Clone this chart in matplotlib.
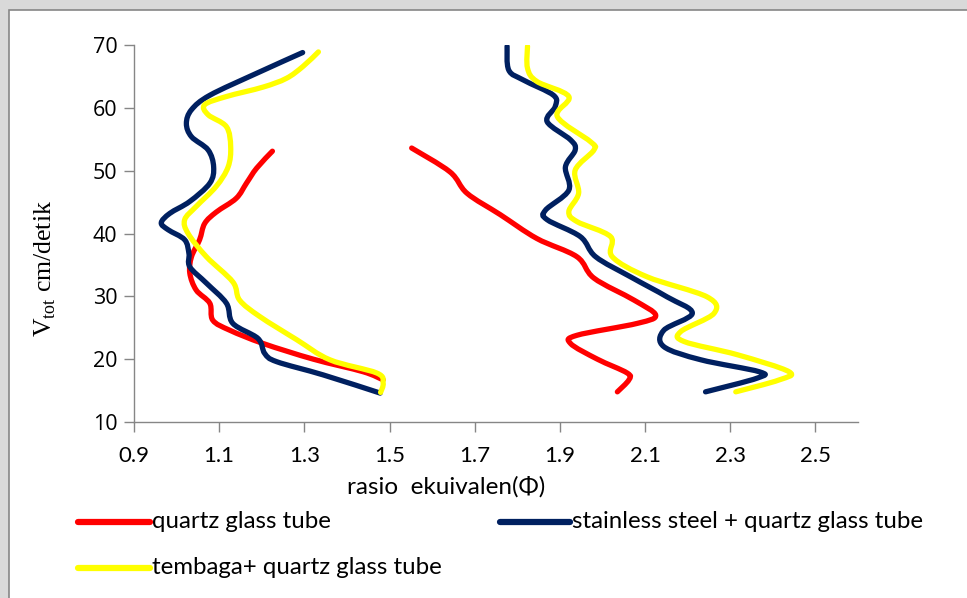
import matplotlib
matplotlib.use("Agg")
import matplotlib.pyplot as plt
from matplotlib.lines import Line2D
from matplotlib.patches import Rectangle, PathPatch
from matplotlib.path import Path

plt.rcParams["mathtext.fontset"] = "custom"
plt.rcParams["mathtext.rm"] = "Liberation Serif"

# data (x = rasio ekuivalen, y = V_tot cm/detik)
# quartz glass tube
quartz_lean_x = [1.225, 1.188, 1.164, 1.140, 1.093, 1.066, 1.054, 1.035, 1.031, 1.046, 1.078, 1.085, 1.125, 1.203, 1.321, 1.438, 1.485]
quartz_lean_y = [53.1, 50.4, 48.0, 45.6, 43.4, 41.6, 39.0, 36.3, 33.7, 31.0, 28.9, 26.2, 24.6, 22.5, 20.0, 18.0, 16.7]
quartz_rich_x = [1.552, 1.642, 1.682, 1.760, 1.846, 1.940, 1.980, 2.074, 2.125, 2.082, 1.940, 1.925, 1.988, 2.058, 2.062, 2.035]
quartz_rich_y = [53.6, 49.8, 46.4, 43.0, 39.2, 36.3, 32.9, 29.4, 27.0, 25.7, 23.8, 22.5, 20.0, 17.8, 16.7, 14.8]

# stainless steel + quartz glass tube
steel_lean_x = [1.296, 1.188, 1.078, 1.035, 1.023, 1.035, 1.074, 1.087, 1.078, 1.031, 0.984, 0.964, 0.980, 1.019, 1.029, 1.031, 1.070, 1.117, 1.132, 1.191, 1.207, 1.235, 1.344, 1.478]
steel_lean_y = [68.8, 65.5, 62.0, 59.7, 57.5, 55.4, 53.3, 50.6, 48.0, 45.1, 43.2, 41.7, 40.6, 39.0, 36.8, 34.7, 32.1, 28.9, 25.7, 23.3, 20.9, 19.6, 17.5, 14.6]
steel_rich_x = [1.776, 1.780, 1.815, 1.885, 1.889, 1.870, 1.925, 1.936, 1.913, 1.921, 1.866, 1.870, 1.948, 1.984, 2.066, 2.152, 2.211, 2.144, 2.144, 2.231, 2.368, 2.364, 2.242]
steel_rich_y = [69.8, 66.0, 64.4, 62.0, 60.2, 57.8, 54.9, 53.3, 50.6, 46.9, 43.7, 42.2, 39.5, 36.3, 33.1, 29.9, 27.3, 24.6, 22.0, 19.9, 18.0, 17.0, 14.8]

# tembaga + quartz glass tube
copper_lean_x = [1.333, 1.297, 1.258, 1.203, 1.117, 1.066, 1.074, 1.117, 1.127, 1.121, 1.093, 1.046, 1.019, 1.027, 1.070, 1.132, 1.148, 1.195, 1.282, 1.360, 1.470, 1.485, 1.479]
copper_lean_y = [68.9, 66.6, 64.7, 63.3, 61.8, 60.5, 58.9, 57.0, 53.8, 50.6, 47.5, 44.3, 42.2, 40.0, 36.3, 32.3, 29.4, 26.8, 23.1, 19.9, 17.8, 16.2, 14.7]
copper_rich_x = [1.824, 1.824, 1.846, 1.921, 1.894, 1.972, 1.980, 1.936, 1.944, 1.921, 1.940, 2.019, 2.023, 2.105, 2.246, 2.262, 2.184, 2.192, 2.317, 2.438, 2.415, 2.313]
copper_rich_y = [69.8, 66.3, 64.2, 61.8, 58.6, 54.6, 53.3, 50.1, 46.4, 43.5, 41.9, 39.5, 36.3, 33.1, 29.9, 27.3, 24.4, 22.8, 20.7, 18.0, 16.7, 14.8]

x_ticks = [0.9, 1.1, 1.3, 1.5, 1.7, 1.9, 2.1, 2.3, 2.5]
y_ticks = [10, 20, 30, 40, 50, 60, 70]
labels = ["quartz glass tube", "stainless steel + quartz glass tube", "tembaga+ quartz glass tube"]

RED = "#ff0000"
NAVY = "#002060"
YELLOW = "#ffff00"
GRAY = "#868686"
SANS = ["Lato", "DejaVu Sans"]


def smooth_path(xs, ys):
    # excel style smoothed line: bezier segments through every point
    pts = list(zip(xs, ys))
    verts = [pts[0]]
    codes = [Path.MOVETO]
    n = len(pts)
    for i in range(n - 1):
        p0 = pts[max(i - 1, 0)]
        p1 = pts[i]
        p2 = pts[i + 1]
        p3 = pts[min(i + 2, n - 1)]
        c1 = (p1[0] + (p2[0] - p0[0]) / 6, p1[1] + (p2[1] - p0[1]) / 6)
        c2 = (p2[0] - (p3[0] - p1[0]) / 6, p2[1] - (p3[1] - p1[1]) / 6)
        verts += [c1, c2, p2]
        codes += [Path.CURVE4] * 3
    return Path(verts, codes)


W, H = 967, 598
fig = plt.figure(figsize=(W / 100, H / 100), dpi=100)
fig.patch.set_facecolor("#d9d9d9")

# white chart area with gray frame (runs past the right and bottom edges)
fig.patches.append(Rectangle((9 / W, -0.1), 1.2, 1 - 10 / H + 0.1, transform=fig.transFigure,
                             facecolor="white", edgecolor=GRAY, linewidth=1.2, zorder=-5))

ax = fig.add_axes([134 / W, 1 - 422 / H, (858 - 134) / W, (422 - 45) / H])
ax.set_facecolor("none")
ax.set_zorder(2)

lw = 3.8
for xs, ys, c in [(quartz_lean_x, quartz_lean_y, RED), (quartz_rich_x, quartz_rich_y, RED),
                  (steel_lean_x, steel_lean_y, NAVY), (steel_rich_x, steel_rich_y, NAVY),
                  (copper_lean_x, copper_lean_y, YELLOW), (copper_rich_x, copper_rich_y, YELLOW)]:
    ax.add_patch(PathPatch(smooth_path(xs, ys), fill=False, edgecolor=c, linewidth=lw,
                           capstyle="round", joinstyle="round"))

ax.set_xlim(0.9, 2.6)
ax.set_ylim(10, 70)
ax.set_xticks(x_ticks)
ax.set_xticklabels([f"{v:.1f}" for v in x_ticks], family=SANS, fontsize=16)
ax.set_yticks(y_ticks)
ax.set_yticklabels([str(v) for v in y_ticks], family=["Open Sans", "DejaVu Sans"], fontsize=15.5)
ax.tick_params(axis="both", direction="out", length=7, width=1, color=GRAY, labelcolor="black")
ax.tick_params(axis="x", pad=10)
ax.tick_params(axis="y", pad=5)
for s in ["top", "right"]:
    ax.spines[s].set_visible(False)
for s in ["left", "bottom"]:
    ax.spines[s].set_color(GRAY)
    ax.spines[s].set_linewidth(1)

fig.text(446 / W, 1 - 487 / H, "rasio  ekuivalen(\u03a6)", family=SANS, fontsize=17.5,
         ha="center", va="center")
fig.text(45 / W, 1 - 268 / H, r"V$_{\mathrm{tot}}$ cm/detik", family=["Liberation Serif", "DejaVu Serif"],
         fontsize=18.5, rotation=90, ha="center", va="center")

# legend drawn by hand to match the two-column layout
legend_items = [(78, 150, 522, RED, labels[0]), (500, 570, 522, NAVY, labels[1]), (78, 150, 568, YELLOW, labels[2])]
for x0, x1, y, c, lab in legend_items:
    fig.lines.append(Line2D([x0 / W, x1 / W], [1 - y / H, 1 - y / H], transform=fig.transFigure,
                            color=c, linewidth=4.5, solid_capstyle="round"))
    fig.text((x1 + 2) / W, 1 - y / H, lab, family=SANS, fontsize=17.3, ha="left", va="center")

fig.savefig("out.png", dpi=100, facecolor=fig.get_facecolor())
